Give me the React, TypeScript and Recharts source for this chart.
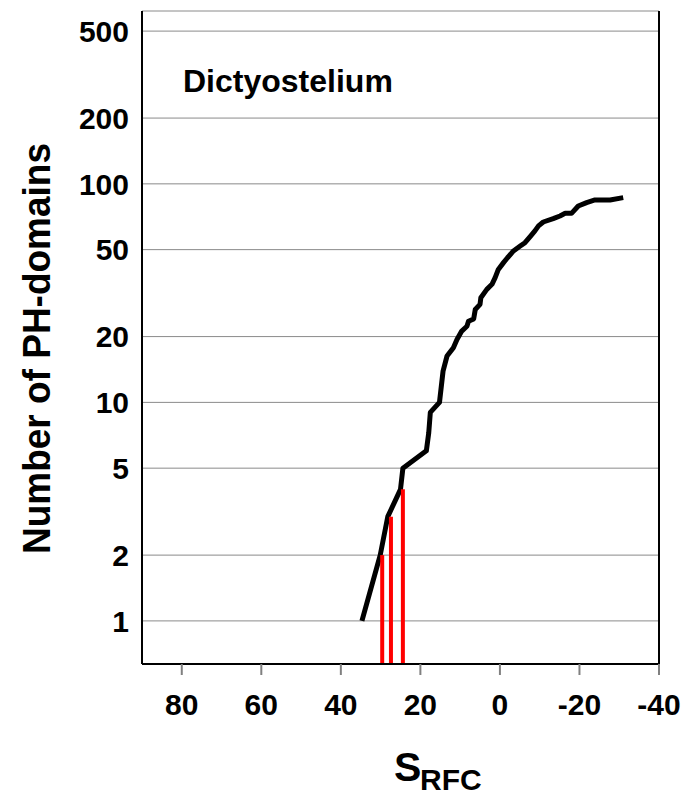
import React from "react";
import {
  CartesianGrid,
  ComposedChart,
  Customized,
  Line,
  ReferenceLine,
  XAxis,
  YAxis,
} from "recharts";

const FONT = "'Liberation Sans', Arial, Helvetica, sans-serif";

// S_RFC score (x) vs cumulative number of PH-domains (y)
const sValues = [
  34.7, 30.1, 28.2, 25.0, 24.4, 18.5, 17.9, 17.5, 15.2, 14.3, 13.3, 11.7, 10.8,
  9.6, 8.3, 7.9, 6.6, 6.2, 5.0, 4.8, 3.3, 2.0, 1.2, 0.4, -0.9, -1.9, -3.4, -5.1,
  -6.3, -7.6, -8.8, -9.7, -10.9, -13.4, -15.1, -16.4, -18.0, -19.7, -21.8,
  -23.9, -27.7, -31.0,
];
const counts = [
  1, 2, 3, 4, 5, 6, 7.25, 9, 10, 13.9, 16.3, 17.8, 19.4, 21.2, 22.3, 23.5, 24.1,
  26.6, 28.1, 30.1, 32.9, 34.7, 37.2, 40.6, 43.6, 45.9, 49.3, 51.9, 53.8, 57.4,
  60.9, 64.2, 66.9, 69.3, 71.3, 73.3, 73.3, 79.2, 82.1, 84.4, 84.4, 86.5,
];

// red marker lines
const redX = [29.6, 27.4, 24.4];
const redTop = [2, 3, 4];

const xTicks = [80, 60, 40, 20, 0, -20, -40];
const yTicks = [1, 2, 5, 10, 20, 50, 100, 200, 500];
const Y_MIN = 0.635;
const Y_MAX = 618;

const curve = sValues.map((x, i) => ({ x, y: counts[i] }));
const redLines = redX.map((x, i) => [
  { x, y: Y_MIN },
  { x, y: redTop[i] },
]);

const tickStyle = { fill: "#000", fontSize: 30, fontWeight: "bold", fontFamily: FONT };

function Titles() {
  return (
    <g fontFamily={FONT} fontWeight="bold" fill="#000">
      <text x={183} y={92} fontSize={32}>
        Dictyostelium
      </text>
      <text
        transform="translate(49.5,348.5) rotate(-90)"
        textAnchor="middle"
        fontSize={39}
        textLength={411}
        lengthAdjust="spacingAndGlyphs"
      >
        Number of PH-domains
      </text>
      <text x={394} y={781} fontSize={41}>
        S
      </text>
      <text x={420} y={790} fontSize={30}>
        RFC
      </text>
    </g>
  );
}

export default function App() {
  return (
    <div style={{ position: "absolute", left: 0, top: 0, background: "#fff" }}>
      <ComposedChart
        width={686}
        height={799}
        data={curve}
        margin={{ top: 11, right: 27, bottom: 0, left: 42 }}
      >
        <CartesianGrid vertical={false} stroke="#8a8a8a" strokeWidth={1} />
        <XAxis
          dataKey="x"
          type="number"
          domain={[-40, 90]}
          reversed
          allowDataOverflow
          ticks={xTicks}
          height={135}
          tickSize={11}
          tickMargin={19}
          tickLine={{ stroke: "#808080", strokeWidth: 2 }}
          axisLine={{ stroke: "#000", strokeWidth: 2 }}
          tick={tickStyle}
        />
        <YAxis
          type="number"
          scale="log"
          domain={[Y_MIN, Y_MAX]}
          allowDataOverflow
          ticks={yTicks}
          width={100}
          tickSize={0}
          tickMargin={13}
          tickLine={false}
          axisLine={{ stroke: "#000", strokeWidth: 2 }}
          tick={tickStyle}
        />
        <ReferenceLine x={-40} stroke="#000" strokeWidth={2} />
        <Line
          dataKey="y"
          type="linear"
          stroke="#000"
          strokeWidth={5}
          strokeLinejoin="round"
          dot={false}
          isAnimationActive={false}
        />
        {redLines.map((d, i) => (
          <Line
            key={i}
            data={d}
            dataKey="y"
            type="linear"
            stroke="#ff0000"
            strokeWidth={4}
            dot={false}
            isAnimationActive={false}
          />
        ))}
        <Customized component={Titles} />
      </ComposedChart>
    </div>
  );
}
